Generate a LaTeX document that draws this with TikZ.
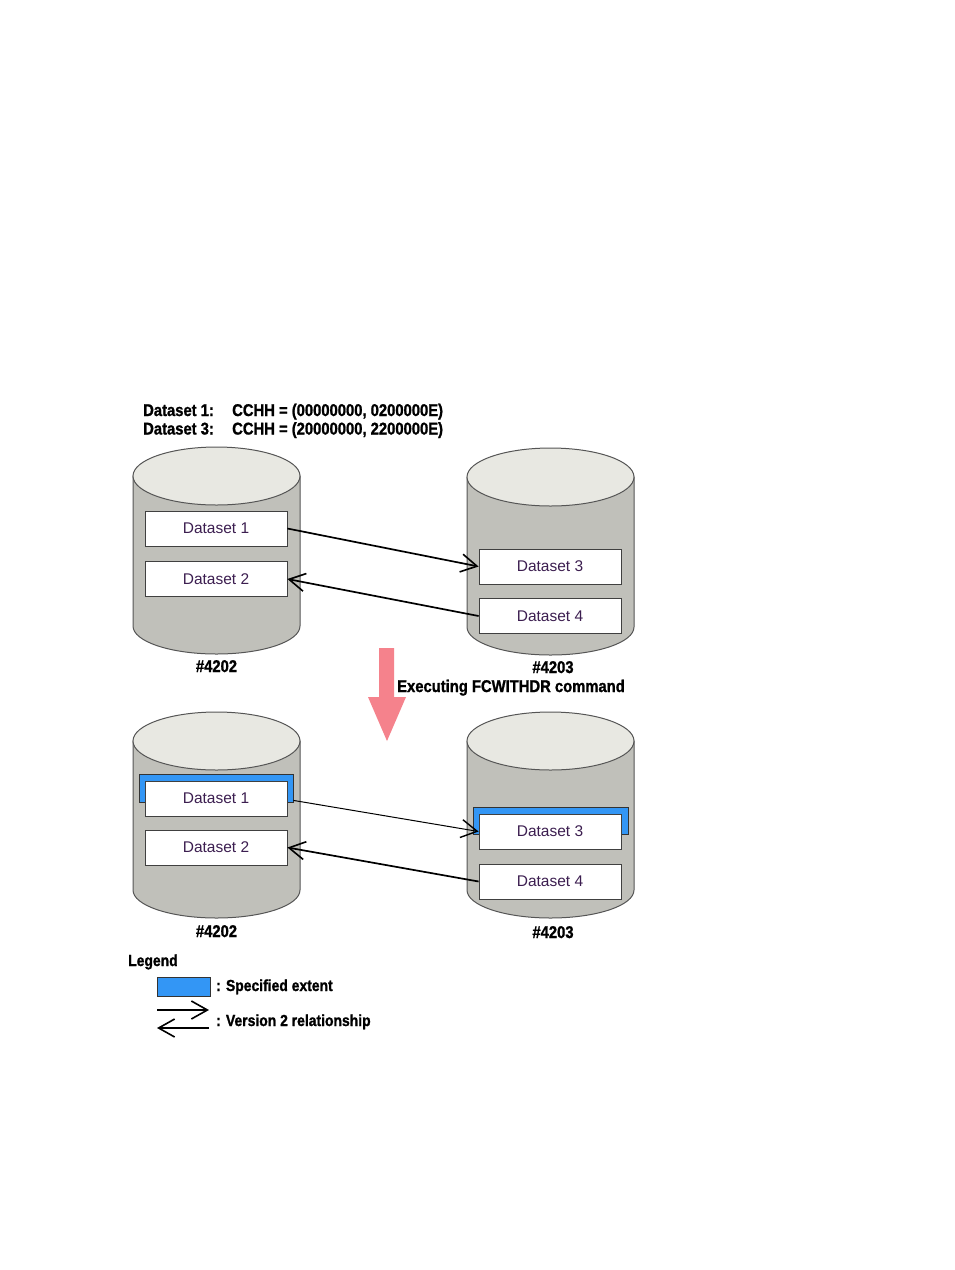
\documentclass[tikz,border=0pt]{standalone}
\usepackage{fontspec}
\setmainfont{Liberation Sans}
\newfontfamily\hdrfont[FakeStretch=0.87,FakeBold=1.2]{Liberation Sans}
\usetikzlibrary{arrows.meta}
\definecolor{cylbody}{RGB}{192,192,186}
\definecolor{cyltop}{RGB}{232,232,226}
\definecolor{cyledge}{RGB}{85,85,85}
\definecolor{extblue}{RGB}{51,150,245}
\definecolor{redarr}{RGB}{245,130,140}
\definecolor{dstext}{RGB}{60,30,80}
\newcommand\mycyl[3]{%
  \draw[cyledge, fill=cylbody, line width=1pt] (#1-83.5,#2) -- (#1-83.5,#3)
    arc[start angle=180, end angle=360, x radius=83.5pt, y radius=28pt] -- (#1+83.5,#2) -- cycle;
  \draw[cyledge, fill=cyltop, line width=1pt] (#1,#2) ellipse[x radius=83.5pt, y radius=29pt];}
\tikzset{
  dsbox/.style={draw=black!75, fill=white, line width=0.8pt, minimum width=142pt, minimum height=35pt,
    inner sep=0pt, font=\fontsize{15.5}{18}\selectfont, text=dstext},
  extbox/.style={draw=black!80, fill=extblue, line width=0.8pt, inner sep=0pt},
  hdr/.style={font=\hdrfont\bfseries\fontsize{17}{20}\selectfont, inner sep=0pt, anchor=base west},
  lbl/.style={font=\hdrfont\bfseries\fontsize{17}{20}\selectfont, inner sep=0pt, anchor=base},
  rel/.style={-{Straight Barb[length=16pt, width=18pt, line width=1.6pt]}, line width=1.7pt},
  relthin/.style={-{Straight Barb[length=16pt, width=18pt, line width=1.4pt]}, line width=1pt},
}
\begin{document}
\begin{tikzpicture}[x=1pt, y=-1pt]
\useasboundingbox (0,0) rectangle (954,1270);
\fill[white] (0,0) rectangle (954,1270);

% header
\node[hdr] (h1a) at (143,416) {Dataset 1:};
\node[hdr] (h1b) at (232,416) {CCHH = (00000000, 0200000E)};
\node[hdr] (h2a) at (143,434.5) {Dataset 3:};
\node[hdr] (h2b) at (232,434.5) {CCHH = (20000000, 2200000E)};

% top cylinders
\mycyl{216.5}{476}{626}
\mycyl{550.5}{477}{627}
\node[dsbox] (d1) at (216,528.5) {Dataset 1};
\node[dsbox] (d2) at (216,579) {Dataset 2};
\node[dsbox] (d3) at (550,566.5) {Dataset 3};
\node[dsbox] (d4) at (550,616) {Dataset 4};
\draw[rel] (d1.east) -- (d3.west);
\draw[rel] (d4.west) -- (d2.east);
\node[lbl] (v1) at (216.5,672) {\#4202};
\node[lbl] (v2) at (553,673) {\#4203};

% transition arrow
\fill[redarr] (379,648) -- (394,648) -- (394,697) -- (406,697) -- (387,741) -- (368,697) -- (379,697) -- cycle;
\node[hdr] (cmd) at (397,692) {Executing FCWITHDR command};

% bottom cylinders
\mycyl{216.5}{741}{890}
\mycyl{550.5}{741}{890}
\node[extbox, minimum width=154pt, minimum height=28pt] (b1) at (216,788) {};
\node[extbox, minimum width=155pt, minimum height=27pt] (b3) at (550.5,820.5) {};
\node[dsbox] (e1) at (216,798.5) {Dataset 1};
\node[dsbox] (e2) at (216,847.5) {Dataset 2};
\node[dsbox] (e3) at (550,831.5) {Dataset 3};
\node[dsbox] (e4) at (550,881.5) {Dataset 4};
\draw[relthin] ([yshift=2pt]b1.south east) -- (e3.west);
\draw[rel] (e4.west) -- (e2.east);
\node[lbl] (v3) at (216.5,937) {\#4202};
\node[lbl] (v4) at (553,938) {\#4203};

% legend
\node[hdr, font=\hdrfont\bfseries\fontsize{16}{19}\selectfont] (leg) at (128,966) {Legend};
\node[extbox, minimum width=53pt, minimum height=19pt] (lbox) at (183.5,987) {};
\node[hdr, font=\hdrfont\bfseries\fontsize{16}{19}\selectfont] (lt1) at (216,991) {: Specified extent};
\coordinate (la1) at (157,1010);
\coordinate (la2) at (209,1010);
\coordinate (lb1) at (209,1028);
\coordinate (lb2) at (157,1028);
\draw[rel] (la1) -- (la2);
\draw[rel] (lb1) -- (lb2);
\node[hdr, font=\hdrfont\bfseries\fontsize{16}{19}\selectfont] (lt2) at (216,1026) {: Version 2 relationship};
\end{tikzpicture}
\end{document}
